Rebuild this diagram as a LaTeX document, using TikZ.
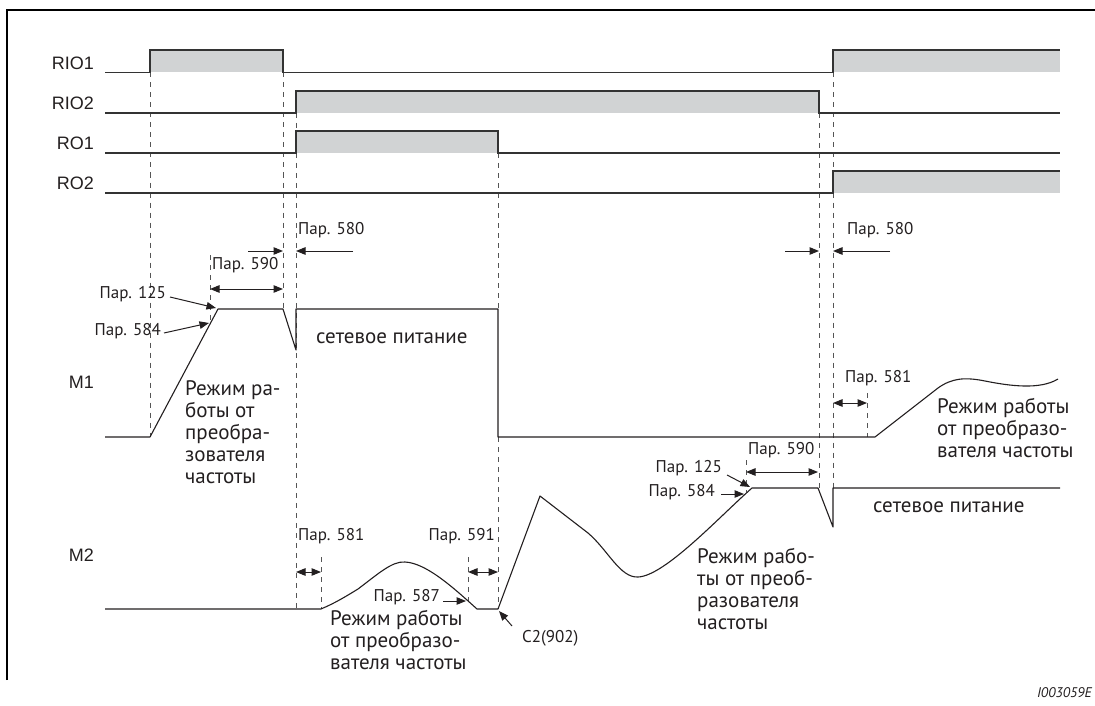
\documentclass[tikz,border=0pt]{standalone}
\usepackage{fontspec}
\setmainfont{PT Sans}
\newfontfamily\arialf{Liberation Sans}
\usetikzlibrary{arrows.meta}
\definecolor{ln}{HTML}{333333}
\definecolor{sh}{HTML}{D1D3D4}
\definecolor{tx}{HTML}{231F20}
\definecolor{dl}{HTML}{555555}
\begin{document}
\begin{tikzpicture}[x=1pt,y=-1pt,
  sig/.style={draw=ln, line width=1.3pt},
  dsh/.style={draw=dl, line width=0.9pt, dash pattern=on 5pt off 5pt},
  crv/.style={draw=tx, line width=1.1pt, line join=round},
  arr/.style={draw=tx, line width=1pt, -{Triangle[length=9.5pt,width=7.5pt]}},
  darr/.style={draw=tx, line width=1pt, {Triangle[length=9.5pt,width=7.5pt]}-{Triangle[length=9.5pt,width=7.5pt]}},
  sm/.style={font=\fontsize{17}{20}\selectfont, text=tx, inner sep=0pt},
  sg/.style={font=\arialf\fontsize{18}{20}\selectfont, text=tx, inner sep=0pt, anchor=east},
  lg/.style={font=\fontsize{21}{22}\selectfont, text=tx, inner sep=0pt, align=left}]
\useasboundingbox (0,0) rectangle (1095,706);
% frame
\draw[black, line width=2pt] (7,680) -- (7,10) -- (1095,10);
% shading
\fill[sh] (150,50) rectangle (283,72.5);
\fill[sh] (833,50) rectangle (1060,72.5);
\fill[sh] (296,91) rectangle (819,113);
\fill[sh] (296,131) rectangle (498,153);
\fill[sh] (833,171) rectangle (1060,193);
% dashed guide lines
\draw[dsh] (150,72.5) -- (150,437);
\draw[dsh] (283,72.5) -- (283,309);
\draw[dsh] (296,113) -- (296,609);
\draw[dsh] (498,153) -- (498,309);
\draw[dsh] (498,437) -- (498,609);
\draw[dsh] (819,113) -- (819,488);
\draw[dsh] (833,72.5) -- (833,488);
\draw[dsh] (210,255) -- (210,323);
\draw[dsh] (746,460) -- (746,492);
\draw[dsh] (321,557) -- (321,609);
\draw[dsh] (468,557) -- (468,601);
\draw[dsh] (867,393) -- (867,437);
% signals
\node[sg] (rio1) at (94,63) {RIO1};
\node[sg] (rio2) at (94,103) {RIO2};
\node[sg] (ro1) at (94,143) {RO1};
\node[sg] (ro2) at (94,183) {RO2};
\draw[sig] (105,72.5) -- (150,72.5) -- (150,50) -- (283,50) -- (283,72.5) -- (833,72.5) -- (833,50) -- (1060,50);
\draw[sig] (105,113) -- (296,113) -- (296,91) -- (819,91) -- (819,113) -- (1060,113);
\draw[sig] (105,153) -- (296,153) -- (296,131) -- (498,131) -- (498,153) -- (1060,153);
\draw[sig] (105,193) -- (833,193) -- (833,171) -- (1060,171);
% M1
\node[sg] (m1) at (94,382) {M1};
\draw[crv] (105,437) -- (150,437) -- (218,309) -- (283,309) -- (296,350) -- (296,309) -- (498,309) -- (498,437) -- (875,437) -- (938,388) .. controls (952,378) and (965,377) .. (985,381) .. controls (1010,386) and (1040,390) .. (1058,379);
% M2
\node[sg] (m2) at (94,555) {M2};
\draw[crv] (105,609) -- (321,609) .. controls (335,603) and (345,597) .. (358,589) .. controls (378,574) and (392,561) .. (405,562) .. controls (425,563) and (450,585) .. (467,600) -- (477,609) -- (498,609) -- (540,496) -- (588,533) .. controls (608,550) and (620,578) .. (638,577) .. controls (665,576) and (720,516) .. (752,488) -- (818,488) -- (833,527) -- (833,488) -- (1060,488);
% Pr. 580
\node[sm, anchor=west] (p580a) at (298,230) {Пар. 580};
\node[sm, anchor=west] (p580b) at (847,230) {Пар. 580};
\coordinate (a1s) at (248,251); \coordinate (a1e) at (283,251);
\coordinate (a2s) at (353,251); \coordinate (a2e) at (296,251);
\coordinate (a3s) at (785,251); \coordinate (a3e) at (819,251);
\coordinate (a4s) at (890,251); \coordinate (a4e) at (833,251);
\draw[arr] (a1s) -- (a1e);
\draw[arr] (a2s) -- (a2e);
\draw[arr] (a3s) -- (a3e);
\draw[arr] (a4s) -- (a4e);
% Pr. 590 left
\node[sm, anchor=west] (p590a) at (212,265) {Пар. 590};
\coordinate (b1) at (210,289); \coordinate (b2) at (283,289);
\draw[darr] (b1) -- (b2);
% Pr. 125 / 584 left
\node[sm, anchor=east] (p125a) at (166,294) {Пар. 125};
\node[sm, anchor=east] (p584a) at (161,331) {Пар. 584};
\coordinate (c1s) at (170,297); \coordinate (c1e) at (216,308);
\coordinate (c2s) at (164,333); \coordinate (c2e) at (209,323);
\draw[arr] (c1s) -- (c1e);
\draw[arr] (c2s) -- (c2e);
% texts M1
\node[lg, anchor=west] (net1) at (316,338) {сетевое питание};
\node[lg, anchor=north west] (m1t) at (185,380) {Режим ра-\\боты от\\преобра-\\зователя\\частоты};
\node[sm, anchor=west] (p581b) at (845,378) {Пар. 581};
\coordinate (d1) at (833,403); \coordinate (d2) at (867,403);
\draw[darr] (d1) -- (d2);
\node[lg, anchor=north west] (m1r) at (937,398) {Режим работы\\от преобразо-\\вателя частоты};
% right M2 parameters
\node[sm, anchor=west] (p590b) at (748,450) {Пар. 590};
\coordinate (e1) at (746,472); \coordinate (e2) at (818,472);
\draw[darr] (e1) -- (e2);
\node[sm, anchor=east] (p125b) at (722,468) {Пар. 125};
\node[sm, anchor=east] (p584b) at (715,492) {Пар. 584};
\coordinate (f1s) at (727,475); \coordinate (f1e) at (750,487);
\coordinate (f2s) at (721,494); \coordinate (f2e) at (744,494);
\draw[arr] (f1s) -- (f1e);
\draw[arr] (f2s) -- (f2e);
\node[lg, anchor=west] (net2) at (873,507) {сетевое питание};
\node[lg, anchor=north west] (m2r) at (697,548) {Режим рабо-\\ты от преоб-\\разователя\\частоты};
% M2 left parameters
\node[sm, anchor=west] (p581a) at (298,536) {Пар. 581};
\node[sm, anchor=east] (p591) at (495,536) {Пар. 591};
\coordinate (g1) at (296,572); \coordinate (g2) at (321,572);
\coordinate (g3) at (468,572); \coordinate (g4) at (498,572);
\draw[darr] (g1) -- (g2);
\draw[darr] (g3) -- (g4);
\node[sm, anchor=east] (p587) at (440,597) {Пар. 587};
\coordinate (h1s) at (443,601); \coordinate (h1e) at (466,601);
\draw[arr] (h1s) -- (h1e);
\node[lg, anchor=north west] (m2l) at (330,610) {Режим работы\\от преобразо-\\вателя частоты};
\node[sm, anchor=west] (c2) at (522,638) {C2(902)};
\coordinate (k1s) at (512,626); \coordinate (k1e) at (499,611);
\draw[arr] (k1s) -- (k1e);
% figure id
\node[font=\itshape\fontsize{14}{16}\selectfont, text=tx, inner sep=0pt, anchor=east] (fid) at (1092,693) {I003059E};
\end{tikzpicture}
\end{document}
